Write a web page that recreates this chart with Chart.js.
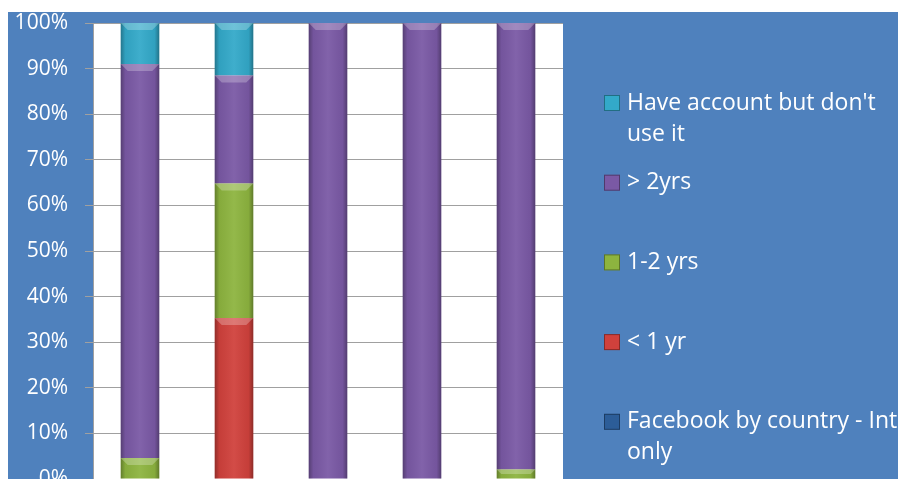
<!DOCTYPE html>
<html>
<head>
<meta charset="utf-8">
<script src="https://cdn.jsdelivr.net/npm/chart.js@4/dist/chart.umd.min.js"></script>
<style>
  body { margin: 0; background: #ffffff; }
  #wrap { position: absolute; left: 8px; top: 12px; width: 890px; height: 467px; }
</style>
</head>
<body>
<div id="wrap"><canvas id="myChart" width="890" height="467"></canvas></div>
<script>
  var categories = ['1', '2', '3', '4', '5'];
  var intOnly = [0, 0, 0, 0, 0];
  var lessThan1 = [0, 35.3, 0, 0, 0];
  var oneToTwo = [4.6, 29.5, 0, 0, 2.1];
  var moreThan2 = [86.4, 23.7, 100, 100, 97.9];
  var notUsed = [9, 11.5, 0, 0, 0];
  var yTicks = [0, 10, 20, 30, 40, 50, 60, 70, 80, 90, 100];

  var fontName = 'Open Sans';

  // white plot area on the blue background
  const plotBg = {
      id: 'plotBg',
      beforeDraw: function (chart) {
          const ctx = chart.ctx;
          ctx.save();
          ctx.fillStyle = '#4f81bd';
          ctx.fillRect(0, 0, chart.width, chart.height);
          const a = chart.chartArea;
          ctx.fillStyle = '#ffffff';
          ctx.fillRect(a.left, a.top, a.right - a.left, a.bottom - a.top);
          ctx.restore();
      }
  };

  // shading on the bars so they look a bit like the 3d excel ones
  const barShade = {
      id: 'barShade',
      afterDatasetsDraw: function (chart) {
          const ctx = chart.ctx;
          ctx.save();
          chart.data.datasets.forEach(function (ds, i) {
              chart.getDatasetMeta(i).data.forEach(function (bar) {
                  const h = bar.base - bar.y;
                  if (h < 0.5) return;
                  const left = bar.x - bar.width / 2;
                  const g = ctx.createLinearGradient(left, 0, left + bar.width, 0);
                  g.addColorStop(0, 'rgba(0,0,0,0.3)');
                  g.addColorStop(0.12, 'rgba(0,0,0,0.05)');
                  g.addColorStop(0.5, 'rgba(255,255,255,0.06)');
                  g.addColorStop(0.88, 'rgba(0,0,0,0.05)');
                  g.addColorStop(1, 'rgba(0,0,0,0.32)');
                  ctx.fillStyle = g;
                  ctx.fillRect(left, bar.y, bar.width, h);
                  // lighter bevel at the top of each segment
                  const bev = Math.min(7, h / 2);
                  ctx.fillStyle = 'rgba(255,255,255,0.25)';
                  ctx.beginPath();
                  ctx.moveTo(left, bar.y);
                  ctx.lineTo(left + bar.width, bar.y);
                  ctx.lineTo(left + bar.width - bev, bar.y + bev);
                  ctx.lineTo(left + bev, bar.y + bev);
                  ctx.closePath();
                  ctx.fill();
              });
          });
          ctx.restore();
      }
  };

  // legend on the right, wrapped text, reversed order like excel
  const sideLegend = {
      id: 'sideLegend',
      afterDraw: function (chart) {
          const ctx = chart.ctx;
          ctx.save();
          ctx.font = '23px ' + fontName;
          ctx.textBaseline = 'middle';
          const x = 596, textX = 619, maxW = 280;
          let y = 91;
          const sets = chart.data.datasets.slice().reverse();
          sets.forEach(function (ds) {
              let words = ds.label.split(' ');
              let lines = [], line = '';
              words.forEach(function (w) {
                  let test = line ? line + ' ' + w : w;
                  if (ctx.measureText(test).width > maxW && line) {
                      lines.push(line);
                      line = w;
                  } else {
                      line = test;
                  }
              });
              lines.push(line);
              ctx.fillStyle = ds.backgroundColor;
              ctx.fillRect(x, y - 8, 16, 16);
              ctx.strokeStyle = 'rgba(0,0,0,0.35)';
              ctx.lineWidth = 1;
              ctx.strokeRect(x + 0.5, y - 7.5, 15, 15);
              ctx.fillStyle = '#ffffff';
              lines.forEach(function (l, k) {
                  ctx.fillText(l, textX, y + k * 31);
              });
              y += 79.7;
          });
          ctx.restore();
      }
  };

  new Chart('myChart', {
      type: 'bar',
      data: {
          labels: categories,
          datasets: [
              { label: 'Facebook by country - Int only', data: intOnly, backgroundColor: '#2c5d98' },
              { label: '< 1 yr', data: lessThan1, backgroundColor: '#d0413c' },
              { label: '1-2 yrs', data: oneToTwo, backgroundColor: '#8db43f' },
              { label: '> 2yrs', data: moreThan2, backgroundColor: '#7a59a5' },
              { label: "Have account but don't use it", data: notUsed, backgroundColor: '#33a9c9' }
          ]
      },
      options: {
          responsive: false,
          animation: false,
          datasets: {
              bar: {
                  categoryPercentage: 1,
                  barPercentage: 0.41,
                  borderWidth: 0
              }
          },
          layout: {
              padding: { top: 11, right: 335, bottom: 0, left: 0 }
          },
          plugins: {
              legend: { display: false },
              tooltip: { enabled: false }
          },
          scales: {
              x: {
                  stacked: true,
                  display: false
              },
              y: {
                  stacked: true,
                  min: 0,
                  max: 100,
                  afterBuildTicks: function (scale) {
                      scale.ticks = yTicks.map(function (v) { return { value: v }; });
                  },
                  afterFit: function (scale) {
                      scale.width = 85;
                      scale.paddingTop = 0;
                      scale.paddingBottom = 0;
                  },
                  ticks: {
                      color: '#ffffff',
                      padding: 17,
                      font: { family: fontName, size: 21 },
                      callback: function (v) { return v + '%'; }
                  },
                  grid: {
                      color: '#a0a0a0',
                      lineWidth: 1,
                      tickLength: 8
                  },
                  border: { color: '#a0a0a0' }
              }
          }
      },
      plugins: [plotBg, barShade, sideLegend]
  });
</script>
</body>
</html>
